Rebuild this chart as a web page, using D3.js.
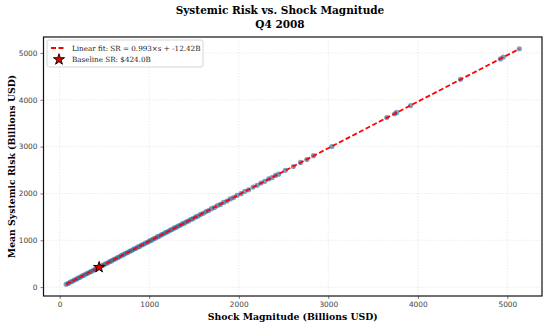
<!DOCTYPE html>
<html>
<head>
<meta charset="utf-8">
<script src="https://cdn.jsdelivr.net/npm/d3@7"></script>
<style>
  body { margin: 0; background: #fff; }
  svg { display: block; }
</style>
</head>
<body>
<div id="viz"></div>
<script>
const WIDTH = 550;
const HEIGHT = 326;
const MARGIN = { top: 37, right: 8, bottom: 30, left: 43.5 };

// shock magnitude (billions USD)
const shock = [72, 95, 118, 140, 162, 185, 204, 226, 248, 270, 291, 313, 335, 356, 378, 399,
  421, 445, 468, 490, 512, 534, 557, 579, 601, 624, 646, 668, 690, 713, 735, 757, 780, 802,
  825, 847, 869, 892, 914, 936, 958, 981, 1003, 1026, 1048, 1071, 1093, 1116, 1139, 1162,
  1184, 1207, 1230, 1253, 1276, 1299, 1322, 1345, 1368, 1392, 1415, 1440, 1466, 1490, 1518,
  1545, 1572, 1603, 1634, 1662, 1695, 1728, 1760, 1795, 1830, 1868, 1905, 1942, 1980, 2025,
  2068, 2110, 2160, 2205, 2248, 2290, 2335, 2372, 2410, 2445, 2520, 2610, 2690, 2760, 2835,
  3040, 3653, 3742, 3764, 3920, 4477, 4922, 4955, 5134];

// mean systemic risk (billions USD)
const risk = [62, 79, 108, 124, 151, 168, 193, 209, 237, 253, 280, 295, 323, 338, 366, 381,
  409, 426, 455, 471, 499, 515, 544, 560, 588, 604, 632, 648, 676, 692, 721, 736, 766, 780,
  810, 825, 854, 870, 899, 913, 942, 958, 987, 1003, 1032, 1047, 1077, 1092, 1122, 1138,
  1167, 1182, 1213, 1228, 1258, 1274, 1304, 1319, 1350, 1366, 1396, 1414, 1447, 1463, 1499,
  1518, 1552, 1576, 1614, 1634, 1674, 1700, 1739, 1766, 1808, 1839, 1883, 1912, 1957, 1995,
  2045, 2079, 2136, 2174, 2223, 2258, 2310, 2339, 2384, 2412, 2494, 2576, 2662, 2725, 2806,
  3003, 3619, 3700, 3729, 3877, 4437, 4872, 4911, 5089];

const fitSlope = 0.993;
const fitIntercept = -12.42;
const baseline = { shock: 440, risk: 424.0 };
const xTicks = [0, 1000, 2000, 3000, 4000, 5000];
const yTicks = [0, 1000, 2000, 3000, 4000, 5000];
const titleLines = ['Systemic Risk vs. Shock Magnitude', 'Q4 2008'];
const legendLabels = ['Linear fit: SR = 0.993×s + -12.42B', 'Baseline SR: $424.0B'];

const SERIF = "'DejaVu Serif', serif";
const SANS = "'DejaVu Sans', sans-serif";

const svg = d3.select('#viz').append('svg')
  .attr('width', WIDTH)
  .attr('height', HEIGHT);

const innerW = WIDTH - MARGIN.left - MARGIN.right;
const innerH = HEIGHT - MARGIN.top - MARGIN.bottom;

// matplotlib-style 5% padding around data
const xExt = d3.extent(shock);
const yExt = d3.extent(risk);
const xPad = (xExt[1] - xExt[0]) * 0.05;
const yPad = (yExt[1] - yExt[0]) * 0.05;

const x = d3.scaleLinear()
  .domain([xExt[0] - xPad, xExt[1] + xPad])
  .range([0, innerW]);
const y = d3.scaleLinear()
  .domain([yExt[0] - yPad, yExt[1] + yPad])
  .range([innerH, 0]);

const inner = svg.append('g')
  .attr('transform', `translate(${MARGIN.left}, ${MARGIN.top})`);

// grid
const grid = inner.append('g').attr('class', 'grid');
grid.selectAll('.gx').data(xTicks).join('line')
  .attr('x1', d => x(d)).attr('x2', d => x(d))
  .attr('y1', 0).attr('y2', innerH)
  .attr('stroke', '#ddd').attr('stroke-width', 0.6)
  .attr('stroke-dasharray', '1.5,1.5');
grid.selectAll('.gy').data(yTicks).join('line')
  .attr('y1', d => y(d)).attr('y2', d => y(d))
  .attr('x1', 0).attr('x2', innerW)
  .attr('stroke', '#ddd').attr('stroke-width', 0.6)
  .attr('stroke-dasharray', '1.5,1.5');

// points
const pts = shock.map((s, i) => ({ s, r: risk[i] }));
inner.append('g').selectAll('circle').data(pts).join('circle')
  .attr('cx', d => x(d.s))
  .attr('cy', d => y(d.r))
  .attr('r', 2.6)
  .attr('fill', '#1f5f9a')
  .attr('fill-opacity', 0.6);

// fit line
const line = d3.line().x(d => x(d)).y(d => y(fitSlope * d + fitIntercept));
inner.append('path')
  .datum(xExt)
  .attr('d', line)
  .attr('fill', 'none')
  .attr('stroke', '#ff0000')
  .attr('stroke-width', 1.8)
  .attr('stroke-dasharray', '5,2.5');

// baseline star
const star = d3.symbol().type(d3.symbolStar).size(38);
inner.append('path')
  .attr('d', star())
  .attr('transform', `translate(${x(baseline.shock)}, ${y(baseline.risk)})`)
  .attr('fill', '#e00000')
  .attr('stroke', '#000')
  .attr('stroke-width', 0.9);

// axes
const fmt = d3.format('d');
const xAxis = d3.axisBottom(x).tickValues(xTicks).tickFormat(fmt).tickSize(3).tickPadding(3);
const yAxis = d3.axisLeft(y).tickValues(yTicks).tickFormat(fmt).tickSize(3).tickPadding(3);

const gx = inner.append('g')
  .attr('transform', `translate(0, ${innerH})`)
  .call(xAxis);
const gy = inner.append('g').call(yAxis);
[gx, gy].forEach(g => {
  g.select('.domain').remove();
  g.selectAll('.tick line').attr('stroke', '#444').attr('stroke-width', 0.7);
  g.selectAll('.tick text')
    .attr('fill', '#444')
    .style('font-family', SANS)
    .style('font-size', '7.4px');
});

// frame
inner.append('rect')
  .attr('width', innerW).attr('height', innerH)
  .attr('fill', 'none').attr('stroke', '#111').attr('stroke-width', 1.2);

// legend
const legend = inner.append('g').attr('transform', 'translate(3.5, 3)');
legend.append('rect')
  .attr('width', 156).attr('height', 27).attr('rx', 2)
  .attr('fill', '#fff').attr('fill-opacity', 0.85)
  .attr('stroke', '#ccc').attr('stroke-width', 0.8);
legend.append('line')
  .attr('x1', 4).attr('x2', 19).attr('y1', 8).attr('y2', 8)
  .attr('stroke', '#ff0000').attr('stroke-width', 1.8)
  .attr('stroke-dasharray', '5,2.5');
legend.append('path')
  .attr('d', star())
  .attr('transform', 'translate(12, 19.5)')
  .attr('fill', '#e00000').attr('stroke', '#000').attr('stroke-width', 0.9);
legend.selectAll('text').data(legendLabels).join('text')
  .attr('x', 25)
  .attr('y', (d, i) => 10.5 + i * 11.5)
  .attr('fill', '#222')
  .style('font-family', SERIF)
  .style('font-size', '7.2px')
  .text(d => d);

// axis labels
svg.append('text')
  .attr('x', MARGIN.left + innerW / 2)
  .attr('y', 320)
  .attr('text-anchor', 'middle')
  .style('font-family', SERIF).style('font-weight', 'bold').style('font-size', '9.3px')
  .text('Shock Magnitude (Billions USD)');
svg.append('text')
  .attr('transform', `translate(15, ${MARGIN.top + innerH / 2}) rotate(-90)`)
  .attr('text-anchor', 'middle')
  .style('font-family', SERIF).style('font-weight', 'bold').style('font-size', '9.3px')
  .text('Mean Systemic Risk (Billions USD)');

// title
svg.append('g').selectAll('text').data(titleLines).join('text')
  .attr('x', 280)
  .attr('y', (d, i) => 14 + i * 13.5)
  .attr('text-anchor', 'middle')
  .style('font-family', SERIF).style('font-weight', 'bold').style('font-size', '10.5px')
  .text(d => d);
</script>
</body>
</html>
